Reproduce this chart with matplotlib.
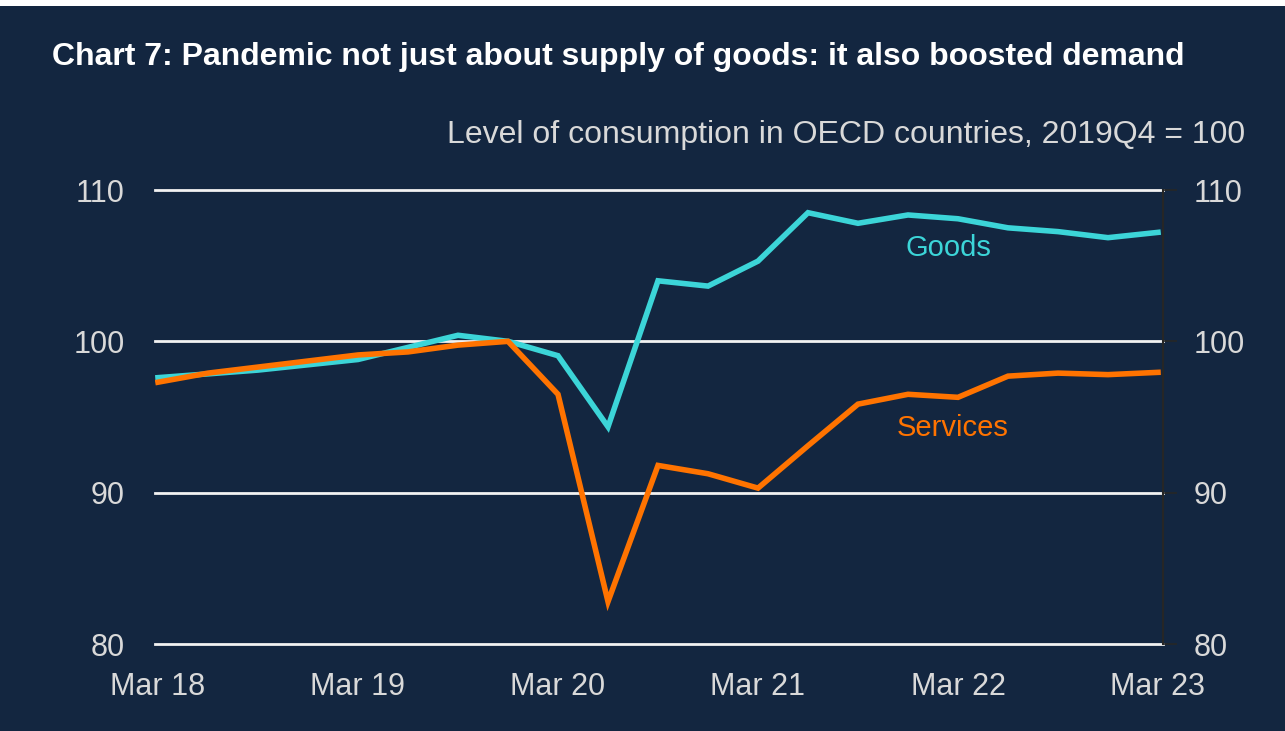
# OECD consumption: goods vs services, quarterly, 2019Q4 = 100
import matplotlib
matplotlib.use('Agg')
import matplotlib.pyplot as plt
from matplotlib.patches import Rectangle

BG = '#132640'
TXT = '#d9d9d9'
CYAN = '#3cd5d8'
ORANGE = '#ff7300'

plt.rcParams['font.family'] = ['Liberation Sans', 'DejaVu Sans']

# quarters Mar 18 .. Mar 23
quarters = list(range(21))
goods = [97.6, 97.85, 98.1, 98.45, 98.8, 99.6, 100.4, 100.0, 99.05, 94.35,
         104.0, 103.65, 105.3, 108.5, 107.8, 108.35, 108.1, 107.5, 107.25, 106.85, 107.2]
services = [97.3, 97.9, 98.3, 98.7, 99.1, 99.3, 99.75, 100.0, 96.5, 82.8,
            91.8, 91.25, 90.3, 93.1, 95.85, 96.5, 96.3, 97.7, 97.9, 97.8, 97.95]
tick_pos = [0, 4, 8, 12, 16, 20]
tick_labels = ['Mar 18', 'Mar 19', 'Mar 20', 'Mar 21', 'Mar 22', 'Mar 23']
y_ticks = [80, 90, 100, 110]

fig = plt.figure(figsize=(12.85, 7.31), dpi=100, facecolor=BG)
# thin white strip at the very top of the original image
fig.patches.append(Rectangle((0, 1 - 6 / 731), 1, 6 / 731, transform=fig.transFigure,
                             facecolor='white', edgecolor='none', zorder=0))

ax = fig.add_axes([155 / 1285, 1 - 644 / 731, (1163 - 155) / 1285, (644 - 190) / 731])
ax.set_facecolor(BG)

for y in y_ticks:
    ax.axhline(y, color='#f2f2f2', lw=2, zorder=1, clip_on=False)

ax.plot(quarters, goods, color=CYAN, lw=4, zorder=3, solid_joinstyle='miter')
ax.plot(quarters, services, color=ORANGE, lw=4, zorder=4, solid_joinstyle='miter')

ax.set_xlim(-0.06, 20.1)
ax.set_ylim(80, 110)

for s in ['top', 'left', 'bottom']:
    ax.spines[s].set_visible(False)
ax.spines['right'].set_color('#262626')
ax.spines['right'].set_linewidth(1.5)
ax.spines['right'].set_zorder(5)

ax.set_yticks(y_ticks)
ax.set_yticklabels([str(v) for v in y_ticks])
ax.tick_params(axis='y', left=False, right=True, labelleft=True, labelright=True,
               direction='out', length=10, width=1.2, color='#262626',
               labelsize=22, labelcolor=TXT, pad=12)

ax.set_xticks(tick_pos)
ax.set_xticklabels(tick_labels)
ax.tick_params(axis='x', bottom=False, labelsize=22, labelcolor=TXT, pad=17)

# series labels
ax.text(15.8, 106.2, 'Goods', color=CYAN, fontsize=21, ha='center', va='center')
ax.text(15.9, 94.25, 'Services', color=ORANGE, fontsize=21, ha='center', va='center')

fig.text(52 / 1285, 1 - 57 / 731, 'Chart 7: Pandemic not just about supply of goods: it also boosted demand',
         color='white', fontsize=23, fontweight='bold', ha='left', va='center')
fig.text(1245 / 1285, 1 - 135 / 731, 'Level of consumption in OECD countries, 2019Q4 = 100',
         color=TXT, fontsize=23, ha='right', va='center')

fig.savefig('out.png', dpi=100, facecolor=BG)
